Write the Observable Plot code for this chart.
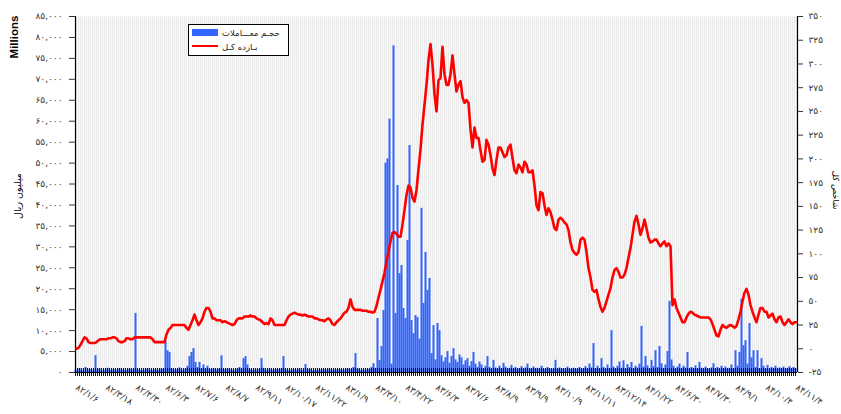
<!DOCTYPE html>
<html><head><meta charset="utf-8">
<script src="https://cdn.jsdelivr.net/npm/d3@7"></script>
<script src="https://cdn.jsdelivr.net/npm/@observablehq/plot@0.6"></script>
<style>
body{margin:0;background:#fff} svg{display:block}
g[aria-label="y-axis tick label"] text{letter-spacing:1px}
g[aria-label="x-axis tick label"] text{letter-spacing:1.7px}
</style>
</head><body><div id="chart"></div>
<script>
// x-axis tick labels (every 15th trading day)
const dateLabels = ["۸۲/۱/۶","۸۲/۳/۱۸","۸۲/۴/۳۰","۸۲/۶/۳","۸۲/۷/۶","۸۲/۸/۷","۸۲/۹/۱۱","۸۲/۱۰/۱۷","۸۲/۱۱/۲۲","۸۳/۱/۹","۸۳/۳/۱۰","۸۳/۴/۲۲","۸۳/۶/۳","۸۳/۷/۶","۸۳/۸/۹","۸۳/۹/۹","۸۳/۱۰/۹","۸۳/۱۱/۱۱","۸۳/۱۲/۱۴","۸۴/۱/۲۲","۸۴/۶/۳۰","۸۴/۷/۳۰","۸۴/۹/۱","۸۴/۱۰/۴","۸۴/۱۱/۴"];

// trading volume (million rials), one per trading day
const volume = [
600,400,900,500,300,1200,400,700,500,300,
4000,500,800,400,300,600,1000,500,400,700,
300,500,900,400,600,300,500,800,400,600,
14100,700,400,500,300,600,900,400,500,300,
700,500,400,800,600,7600,5200,4800,900,600,
400,700,1100,500,300,800,1500,3800,4800,5700,
2400,1200,2400,900,1800,600,1500,700,500,900,
400,600,800,4000,700,500,900,400,600,300,
500,800,1200,600,3300,3800,1800,700,500,400,
600,300,700,3300,1000,500,400,800,300,600,
500,700,400,900,3800,600,400,500,300,700,
400,600,800,500,300,1900,500,700,400,300,
500,400,600,300,700,500,400,800,300,500,
600,400,700,500,300,600,900,500,700,1200,
4500,800,500,400,600,300,700,500,1200,2100,
1000,12900,2900,6200,14800,50000,51000,60500,2000,78000,
14100,44650,23600,25550,15300,12900,31500,54200,12400,9300,
13600,13100,8000,39200,16500,28650,19600,22450,4500,11200,
3000,11700,10000,4000,2500,3500,5000,2200,3800,5700,
3000,2400,4200,3500,1800,2800,3300,1500,2600,4800,
2000,1200,2500,1800,900,1500,3800,1200,700,2900,
1100,800,1500,900,2200,1300,600,1000,1700,800,
1200,500,900,1400,700,1100,2000,600,900,1300,
700,1000,500,1500,800,600,1200,900,500,800,
2900,700,1100,600,900,400,1300,700,500,1000,
600,800,1200,500,900,1400,700,2000,1100,6900,
900,1500,800,3300,1200,700,1800,900,10000,1300,
800,1500,2500,1000,2800,700,1900,1200,2400,900,
1500,1100,2000,11000,1300,3800,1600,900,2900,1400,
5200,1200,6200,2100,1000,1800,5000,17000,3000,1500,
800,1300,2000,900,1500,1100,4800,700,1200,900,
1600,800,2400,1000,700,1300,900,500,1100,2100,
800,1200,600,1500,900,1300,700,1000,1800,900,
5200,1500,4800,17500,6400,7600,2000,11700,3500,5200,
1200,5200,900,3300,1500,800,1700,600,1200,900,
1500,700,1100,900,1300,600,1000,1400,800,1200,900
];

// total return index (right axis)
const totalReturn = [
0,1,4,8,12,11,7,6,6,6,
7,9,10,10,10,10,11,11,12,12,
11,8,7,7,8,11,11,10,10,12,
12,12,12,12,12,12,12,12,10,7,
7,7,7,7,7,15,20,22,25,25,
25,25,25,25,25,22,20,25,30,36,
30,25,28,32,39,43,43,39,32,32,
30,30,30,28,29,28,27,26,25,26,
30,32,32,32,34,34,34,35,34,34,
32,31,30,28,26,27,26,32,30,25,
25,25,25,25,25,30,34,36,37,38,
37,36,36,35,36,35,34,34,34,32,
32,31,30,30,29,31,32,30,26,25,
28,30,32,35,38,39,43,52,44,41,
41,41,41,40,40,40,39,39,38,39,
45,54,62,71,80,92,102,113,122,123,
121,118,118,131,146,162,172,170,159,155,
167,189,210,236,257,278,304,321,299,268,
250,283,285,318,289,278,278,289,309,289,
271,278,282,265,259,262,259,231,212,233,
222,222,209,197,199,220,215,204,190,183,
199,212,212,207,202,204,212,215,201,188,
185,194,191,186,197,194,186,186,188,172,
151,146,165,164,151,141,148,144,136,127,
125,136,138,136,133,131,125,112,104,101,
99,102,115,117,115,102,85,75,62,60,
62,52,44,39,43,50,57,64,75,83,
85,81,75,75,78,85,96,106,120,134,
140,131,120,127,136,127,117,112,113,115,
115,111,108,111,113,108,111,108,46,52,
43,38,33,28,28,33,37,39,38,36,
35,34,33,33,33,33,33,31,26,20,
14,13,20,25,23,22,24,25,24,22,
24,31,39,50,59,63,57,46,39,33,
28,36,43,43,39,39,33,35,37,31,
28,33,34,28,25,28,31,28,26,28,28
];

const leftTicks = d3.range(0, 85001, 5000);
const rightTicks = d3.range(-25, 351, 25);
const labelEvery = 15;
const legendItems = ["حجـم معـــاملات", "بـازده کـل"];

const fa = s => String(s).replace(/\d/g, d => "۰۱۲۳۴۵۶۷۸۹"[d]);
const k = 85000 / 375;           // right-axis units -> left-axis units
const toLeft = v => (v + 25) * k;
const n = volume.length;
const idx = d3.range(n);

const chart = Plot.plot({
  width: 841, height: 414,
  marginLeft: 75, marginRight: 44, marginTop: 16, marginBottom: 42,
  style: {fontFamily: "DejaVu Sans", fontSize: "9px", color: "#333", background: "#fff"},
  x: {type: "linear", domain: [-0.5, n - 0.5], axis: null},
  y: {domain: [0, 85000], axis: null},
  marks: [
    Plot.frame({fill: "#ebebeb", stroke: null}),
    Plot.ruleX(idx, {x: d => d - 0.5, stroke: "#f8f8f8", strokeWidth: 1}),
    Plot.rectY(volume, {x1: (d, i) => i - 0.75, x2: (d, i) => i + 0.25, y1: 0, y2: d => d, fill: "#3366ff"}),
    Plot.ruleX(idx, {x: d => d - 0.5, y1: -950, y2: 950, stroke: "#111", strokeWidth: 1}),
    Plot.ruleY([0], {stroke: "#000"}),
    Plot.ruleX([-0.5, n - 0.5], {stroke: "#000", strokeWidth: 1.2}),
    Plot.lineY(totalReturn, {x: (d, i) => i, y: d => toLeft(d), stroke: "#ff0000", strokeWidth: 2.6, strokeLinejoin: "round"}),
    Plot.axisY({anchor: "left", ticks: leftTicks, tickFormat: d => fa(d3.format(",")(d)), tickSize: 6, tickPadding: 7, tickStroke: "#000"}),
    Plot.axisY({anchor: "right", ticks: rightTicks.map(toLeft), tickFormat: d => fa(Math.round(d / k - 25)), tickSize: 5, tickPadding: 6}),
    Plot.axisX({anchor: "bottom", ticks: d3.range(0, n, labelEvery), tickFormat: d => dateLabels[d / labelEvery], tickSize: 0, tickPadding: 14, tickRotate: 33})
  ]
});
document.getElementById("chart").appendChild(chart);

const svg = d3.select(chart);
// axis titles
svg.append("text").attr("transform", "translate(18,37) rotate(-90)").attr("text-anchor", "middle")
  .attr("font-family", "Liberation Sans").attr("font-weight", "bold").attr("font-size", 11.5).attr("fill", "#000").text("Millions");
svg.append("text").attr("transform", "translate(21,196) rotate(-90)").attr("text-anchor", "middle")
  .attr("font-family", "DejaVu Sans").attr("font-size", 9.5).attr("fill", "#000").text("میلیون ریال");
svg.append("text").attr("transform", "translate(833,190) rotate(90)").attr("text-anchor", "middle")
  .attr("font-family", "DejaVu Sans").attr("font-size", 8.5).attr("fill", "#000").text("شاخص کل");
// legend
const lg = svg.append("g");
lg.append("rect").attr("x", 188.5).attr("y", 24.5).attr("width", 100).attr("height", 31).attr("fill", "#fff").attr("stroke", "#000");
lg.append("rect").attr("x", 192).attr("y", 29).attr("width", 26).attr("height", 7).attr("fill", "#3366ff");
lg.append("line").attr("x1", 192).attr("x2", 218).attr("y1", 46).attr("y2", 46).attr("stroke", "#ff0000").attr("stroke-width", 2);
legendItems.forEach((t, j) => {
  const el = lg.append("text").attr("y", j ? 50 : 36).attr("text-anchor", "end")
    .attr("font-family", "DejaVu Sans").attr("font-size", 8.5).attr("fill", "#222").text(t);
  const w = el.node().getComputedTextLength();
  el.attr("x", 222 + w);
});
</script>
</body></html>
